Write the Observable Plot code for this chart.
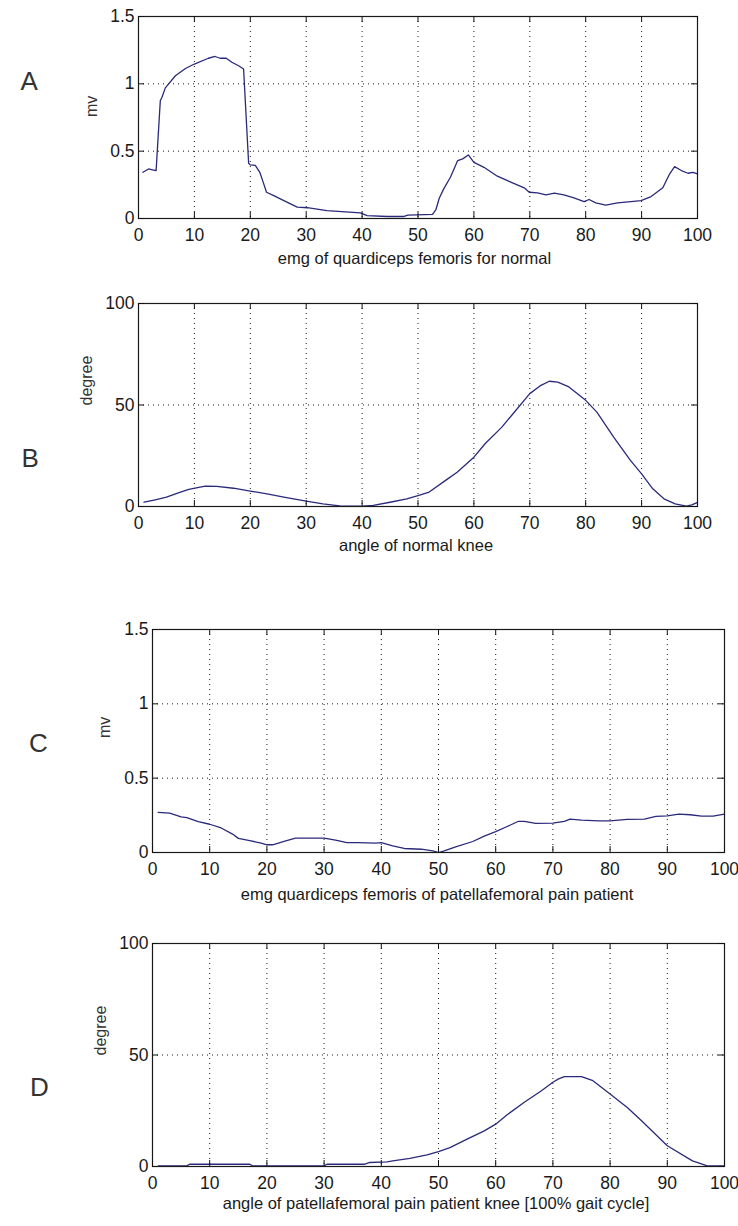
<!DOCTYPE html>
<html>
<head>
<meta charset="utf-8">
<script src="https://cdn.jsdelivr.net/npm/d3@7"></script>
<script src="https://cdn.jsdelivr.net/npm/@observablehq/plot@0.6"></script>
<style>
  html, body { margin: 0; padding: 0; background: #fff; }
  #root { position: relative; width: 738px; height: 1226px; overflow: hidden; background: #fff; }
  .panel { position: absolute; left: 0; }
  .panel svg { display: block; }
</style>
</head>
<body>
<div id="root"></div>
<script>
// ---------- tick labels ----------
const xTicks = [0, 10, 20, 30, 40, 50, 60, 70, 80, 90, 100];
const emgTicks = [0, 0.5, 1, 1.5];
const emgTickLabels = ["0", "0.5", "1", "1.5"];
const angleTicks = [0, 50, 100];
const angleTickLabels = ["0", "50", "100"];

// ---------- A: EMG quadriceps femoris, normal (mV) ----------
const gaitA = [0.8, 1.8, 2.7, 3.15, 3.9, 4.2, 4.8, 6.6, 8.4, 10, 12.5, 13.7, 14.6, 15.7, 16.7, 17.9, 18.8,
  19.7, 20.0, 20.9, 21.7, 22.3, 22.9, 24.2, 26, 28.4, 30.2, 33.7, 39.7, 40.9, 44.5, 47.5, 48.2, 52.6,
  53.2, 53.8, 54.6, 55.8, 57.1, 58, 59, 60, 61.8, 64.2, 66.6, 69, 69.9, 71.4, 72.9, 74.4, 76.1, 77.9,
  79.7, 80.6, 81.8, 83.6, 85.7, 88.1, 89.9, 91.7, 93.8, 95, 95.9, 97.1, 98.3, 99.2, 100];
const emgNormal = [0.343, 0.368, 0.36, 0.355, 0.875, 0.9, 0.97, 1.06, 1.114, 1.147, 1.19, 1.203, 1.19, 1.19, 1.16, 1.134, 1.11,
  0.41, 0.398, 0.395, 0.343, 0.27, 0.195, 0.17, 0.133, 0.084, 0.08, 0.059, 0.042, 0.022, 0.015, 0.015, 0.025, 0.03,
  0.065, 0.15, 0.22, 0.306, 0.43, 0.443, 0.472, 0.417, 0.38, 0.314, 0.27, 0.228, 0.195, 0.19, 0.176, 0.188, 0.176, 0.153,
  0.126, 0.141, 0.116, 0.1, 0.116, 0.126, 0.133, 0.163, 0.228, 0.33, 0.385, 0.356, 0.336, 0.343, 0.331];

// ---------- B: knee angle, normal (degree) ----------
const gaitB = [1, 3, 5, 7, 9, 11, 12, 14, 17, 20, 23, 26, 30, 33, 36, 40, 42, 45, 48, 50, 52, 55, 57, 60, 62, 65,
  67, 70, 72, 73.5, 75, 77, 80, 82, 85, 88, 90, 92, 94, 96, 98, 99, 100];
const angleNormal = [2.1, 3.3, 4.6, 6.6, 8.4, 9.5, 10.0, 9.9, 9.0, 7.6, 6.2, 4.6, 2.6, 1.3, 0.3, 0.2, 0.5, 2.1, 3.8, 5.4, 7.1, 13, 16.9, 24.3, 30.9, 39.1,
  45.7, 55.6, 59.7, 61.7, 61.3, 58.9, 52.3, 46.5, 34.2, 22.7, 16.1, 8.7, 3.8, 1.3, 0.2, 0.8, 2.0];

// ---------- C: EMG quadriceps femoris, patellofemoral pain patient (mV) ----------
const gaitC = [1, 3, 5, 6, 8, 10, 12, 14, 15, 17, 19, 20, 21, 23, 25, 28, 30, 32, 34, 36, 39, 40, 42, 44, 47, 49, 50,
  51, 53, 56, 58, 60, 62, 64, 65, 67, 70, 72, 73, 75, 78, 80, 83, 86, 88, 90, 92, 94, 96, 98, 100];
const emgPatient = [0.27, 0.265, 0.24, 0.235, 0.207, 0.19, 0.165, 0.124, 0.095, 0.08, 0.063, 0.052, 0.052, 0.074, 0.097, 0.097, 0.097, 0.083, 0.067, 0.067, 0.063, 0.067, 0.045, 0.027, 0.022, 0.011, 0.0,
  0.011, 0.038, 0.074, 0.11, 0.14, 0.175, 0.21, 0.21, 0.196, 0.198, 0.21, 0.225, 0.218, 0.213, 0.213, 0.223, 0.225, 0.243, 0.247, 0.258, 0.254, 0.245, 0.245, 0.258];

// ---------- D: knee angle, patellofemoral pain patient (degree) ----------
const gaitD = [1, 6, 6.5, 17, 17.5, 30, 30.5, 37, 38, 41, 42, 45, 48, 50, 52, 55, 58, 60, 62, 65, 68, 70, 71, 72, 75, 77,
  80, 83, 85.5, 90, 94.4, 97, 100];
const anglePatient = [0.3, 0.3, 1.0, 1.0, 0.3, 0.3, 1.0, 1.0, 1.8, 2.1, 2.5, 3.6, 5.2, 6.7, 8.5, 12.3, 16, 19, 23.2, 28.8, 34.0, 37.8, 39.3, 40.3, 40.3, 38.5,
  32.5, 26.5, 20.5, 9.3, 2.5, 0.3, 0.3];

// ---------- panel texts ----------
const letters = ["A", "B", "C", "D"];
const yLabels = ["mv", "degree", "mv", "degree"];
const xLabels = [
  "emg of quardiceps femoris for normal",
  "angle of normal knee",
  "emg quardiceps femoris of patellafemoral pain patient",
  "angle of patellafemoral pain patient knee [100% gait cycle]"
];

const FONT = "'Liberation Sans', Arial, Helvetica, sans-serif";
const LINE = "#2a2a7a";

function panel(cfg) {
  const W = 738;
  const plotW = W - cfg.marginLeft - cfg.marginRight;
  const plotH = cfg.plotH;
  const data = cfg.xs.map((x, i) => ({x, y: cfg.ys[i]}));
  const yMax = cfg.yTicks[cfg.yTicks.length - 1];
  const innerX = xTicks.filter(t => t > 0 && t < 100);
  const innerY = cfg.yTicks.filter(t => t > 0 && t < yMax);
  const fmt = t => cfg.yTickLabels[cfg.yTicks.indexOf(t)];
  const dotted = {stroke: "#000", strokeWidth: 1, strokeDasharray: "1,4", strokeOpacity: 0.9};
  const tickStyle = {stroke: "#111", strokeWidth: 1};
  return Plot.plot({
    width: W,
    height: plotH + 16 + 60,
    marginTop: 16,
    marginBottom: 60,
    marginLeft: cfg.marginLeft,
    marginRight: cfg.marginRight,
    style: {fontFamily: FONT, background: "#fff", color: "#1a1a1a"},
    x: {domain: [0, 100]},
    y: {domain: [0, yMax]},
    marks: [
      Plot.ruleX(innerX, {x: d => d, ...dotted}),
      Plot.ruleY(innerY, {y: d => d, ...dotted}),
      Plot.line(data, {x: "x", y: "y", stroke: LINE, strokeWidth: 1.3}),
      Plot.frame({stroke: "#1a1a1a", strokeWidth: 1.2}),
      // inward tick marks (bottom, top, left, right)
      Plot.ruleX(xTicks, {x: d => d, insetTop: plotH - 6, ...tickStyle}),
      Plot.ruleX(xTicks, {x: d => d, insetBottom: plotH - 6, ...tickStyle}),
      Plot.ruleY(cfg.yTicks, {y: d => d, insetRight: plotW - 6, ...tickStyle}),
      Plot.ruleY(cfg.yTicks, {y: d => d, insetLeft: plotW - 6, ...tickStyle}),
      Plot.axisX(xTicks, {tickSize: 0, tickPadding: 10, fontSize: 17.5, label: null, tickFormat: d => String(d)}),
      Plot.axisY(cfg.yTicks, {tickSize: 0, tickPadding: 4, fontSize: 17.5, label: null, tickFormat: fmt}),
      Plot.text([cfg.xLabel], {text: d => d, frameAnchor: "bottom", dy: cfg.xLabelDy, dx: cfg.xLabelDx, fontSize: 16.5, fill: "#1a1a1a"}),
      Plot.text([cfg.yLabel], {text: d => d, frameAnchor: "left", rotate: -90, dx: cfg.yLabelDx, dy: cfg.yLabelDy, fontSize: 16, fill: "#333"}),
      Plot.text([cfg.letter], {text: d => d, frameAnchor: "left", dx: cfg.letterDx, dy: cfg.letterDy, fontSize: 26, fontWeight: 300, fill: "#333"})
    ]
  });
}

const panels = [
  {top: 0, xs: gaitA, ys: emgNormal, yTicks: emgTicks, yTickLabels: emgTickLabels, plotH: 202, marginLeft: 138, marginRight: 41,
   letter: letters[0], yLabel: yLabels[0], xLabel: xLabels[0], xLabelDy: 45, xLabelDx: -3.5, yLabelDx: -47, yLabelDy: -0.5, letterDx: -118, letterDy: -36},
  {top: 287, xs: gaitB, ys: angleNormal, yTicks: angleTicks, yTickLabels: angleTickLabels, plotH: 203, marginLeft: 138, marginRight: 41,
   letter: letters[1], yLabel: yLabels[1], xLabel: xLabels[1], xLabelDy: 44, xLabelDx: -2, yLabelDx: -51.5, yLabelDy: 0.5, letterDx: -117, letterDy: 53.5},
  {top: 613, xs: gaitC, ys: emgPatient, yTicks: emgTicks, yTickLabels: emgTickLabels, plotH: 223, marginLeft: 152, marginRight: 14,
   letter: letters[2], yLabel: yLabels[2], xLabel: xLabels[2], xLabelDy: 47, xLabelDx: -1.5, yLabelDx: -48, yLabelDy: -3, letterDx: -123.5, letterDy: 2.5},
  {top: 927, xs: gaitD, ys: anglePatient, yTicks: angleTicks, yTickLabels: angleTickLabels, plotH: 223, marginLeft: 152, marginRight: 14,
   letter: letters[3], yLabel: yLabels[3], xLabel: xLabels[3], xLabelDy: 42, xLabelDx: -2.5, yLabelDx: -51.5, yLabelDy: 0.5, letterDx: -122.5, letterDy: 32.5}
];

const root = document.getElementById("root");
for (const cfg of panels) {
  const div = document.createElement("div");
  div.className = "panel";
  div.style.top = cfg.top + "px";
  div.appendChild(panel(cfg));
  root.appendChild(div);
}
</script>
</body>
</html>
